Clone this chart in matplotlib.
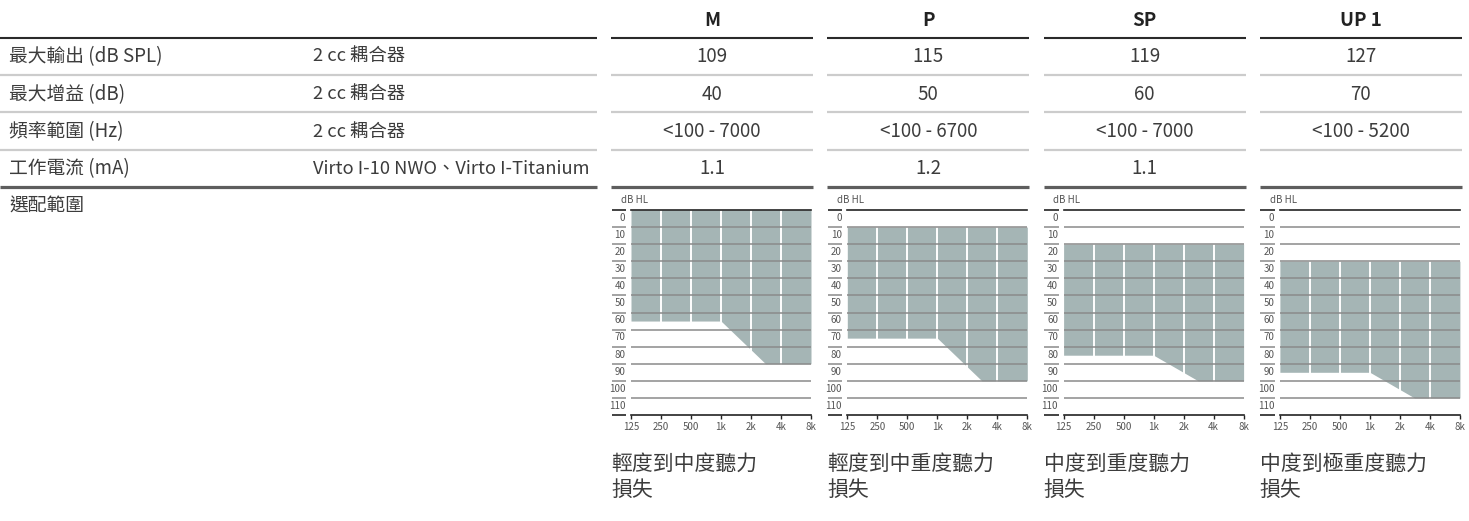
import matplotlib
matplotlib.use("Agg")
import matplotlib.pyplot as plt
from matplotlib.ticker import FixedLocator, NullLocator

plt.rcParams['font.family'] = ['Noto Sans CJK TC', 'DejaVu Sans']

# ---------------- data ----------------
models = ['M', 'P', 'SP', 'UP 1']
row_labels = ['最大輸出 (dB SPL)', '最大增益 (dB)', '頻率範圍 (Hz)', '工作電流 (mA)', '選配範圍']
row_conditions = ['2 cc 耦合器', '2 cc 耦合器', '2 cc 耦合器', 'Virto I-10 NWO、Virto I-Titanium', '']
max_output = ['109', '115', '119', '127']
max_gain = ['40', '50', '60', '70']
freq_range = ['<100 - 7000', '<100 - 6700', '<100 - 7000', '<100 - 5200']
current = ['1.1', '1.2', '1.1', '']
fitting_desc = ['輕度到中度聽力\n損失', '輕度到中重度聽力\n損失', '中度到重度聽力\n損失', '中度到極重度聽力\n損失']

# audiogram axis
audio_freqs = [125, 250, 500, 1000, 2000, 4000, 8000]
audio_freq_labels = ['125', '250', '500', '1k', '2k', '4k', '8k']
db_levels = [0, 10, 20, 30, 40, 50, 60, 70, 80, 90, 100, 110]

# fitting range (dB HL) per model: upper edge, lower edge at low freqs, lower edge at high freqs
fit_freqs = [125, 1000, 2800, 8000]
fit_upper = [0, 10, 20, 30]
fit_lower_low = [65, 75, 85, 95]
fit_lower_high = [90, 100, 100, 110]

# ---------------- layout ----------------
W, H = 1469, 521
fig = plt.figure(figsize=(W / 100, H / 100), dpi=100)
bg = fig.add_axes([0, 0, 1, 1])
bg.set_xlim(0, W)
bg.set_ylim(H, 0)
bg.axis('off')

TXT = '#3c3c3c'
col_x0, col_pitch, col_w = 611, 216.3, 202
left_end = 597
row_lines = [37.7, 75, 112.3, 149.7, 187]
line_styles = [('#2a2a2a', 1.5), ('#cccccc', 1.6), ('#cccccc', 1.6), ('#cccccc', 1.6), ('#5e5e5e', 2.3)]
row_centers = [56.5, 94.5, 131.5, 168.5, 206]

# horizontal table rules
for y, (c, lw) in zip(row_lines, line_styles):
    bg.plot([0, left_end], [y, y], color=c, lw=lw, solid_capstyle='butt')
    for i in range(len(models)):
        x0 = col_x0 + i * col_pitch
        bg.plot([x0, x0 + col_w], [y, y], color=c, lw=lw, solid_capstyle='butt')

# headers
for i, m in enumerate(models):
    xc = col_x0 + i * col_pitch + col_w / 2
    bg.text(xc, 20, m, ha='center', va='center', fontsize=13.5, fontweight='semibold', color='#222222')

# left labels
for lab, cond, yc in zip(row_labels, row_conditions, row_centers):
    bg.text(9, yc, lab, ha='left', va='center', fontsize=13.5, color=TXT)
    if cond:
        bg.text(313, yc, cond, ha='left', va='center', fontsize=13.2, color=TXT)

# values
for r, vals in enumerate([max_output, max_gain, freq_range, current]):
    for i, v in enumerate(vals):
        if v:
            xc = col_x0 + i * col_pitch + col_w / 2
            bg.text(xc, row_centers[r], v, ha='center', va='center', fontsize=13.5, color=TXT)

# audiograms
FILL = '#a5b5b5'
GRID = '#8a8a8a'
DARK = '#222222'
for i in range(len(models)):
    left_px = col_x0 + i * col_pitch + 20
    ax = fig.add_axes([left_px / W, (H - 415) / H, 180 / W, 205 / H])
    ax.set_xscale('log', base=2)
    ax.set_xlim(audio_freqs[0], audio_freqs[-1])
    ax.set_ylim(120, 0)
    ax.patch.set_alpha(0)
    for s in ['top', 'left', 'right']:
        ax.spines[s].set_visible(False)
    ax.spines['bottom'].set_color(DARK)
    ax.spines['bottom'].set_linewidth(1.2)

    lower = [fit_lower_low[i], fit_lower_low[i], fit_lower_high[i], fit_lower_high[i]]
    ax.fill_between(fit_freqs, [fit_upper[i]] * len(fit_freqs), lower, color=FILL, lw=0, zorder=1)
    for f in audio_freqs[1:-1]:
        ax.axvline(f, color='white', lw=1.4, zorder=2)
    for v in db_levels[1:]:
        ax.axhline(v, color=GRID, lw=1.1, zorder=3)
    ax.axhline(db_levels[0], color=DARK, lw=1.2, zorder=4, clip_on=False)

    # short label rules to the left of the grid
    yt = ax.get_yaxis_transform()
    ax.hlines(db_levels[1:], -0.108, -0.028, transform=yt, colors=GRID, lw=1.1, clip_on=False)
    ax.hlines([db_levels[0], 120], -0.108, -0.028, transform=yt, colors=DARK, lw=1.2, clip_on=False)

    ax.xaxis.set_major_locator(FixedLocator(audio_freqs))
    ax.xaxis.set_minor_locator(NullLocator())
    ax.set_xticklabels(audio_freq_labels)
    ax.tick_params(axis='x', direction='out', length=3, width=1, color=DARK,
                   labelsize=7, labelcolor='#555555', pad=2)

    ax.yaxis.set_major_locator(FixedLocator([v + 4 for v in db_levels]))
    ax.yaxis.set_minor_locator(NullLocator())
    ax.set_yticklabels([str(v) for v in db_levels])
    ax.tick_params(axis='y', length=0, labelsize=7, labelcolor='#555555', pad=4)

    ax.text(-0.057, 1.05, 'dB HL', transform=ax.transAxes, ha='left', va='center',
            fontsize=7, color='#555555')

    bg.text(col_x0 + i * col_pitch, 476.5, fitting_desc[i], ha='left', va='center',
            fontsize=15, color=TXT, linespacing=1.25)

fig.savefig('out.png', dpi=100)
